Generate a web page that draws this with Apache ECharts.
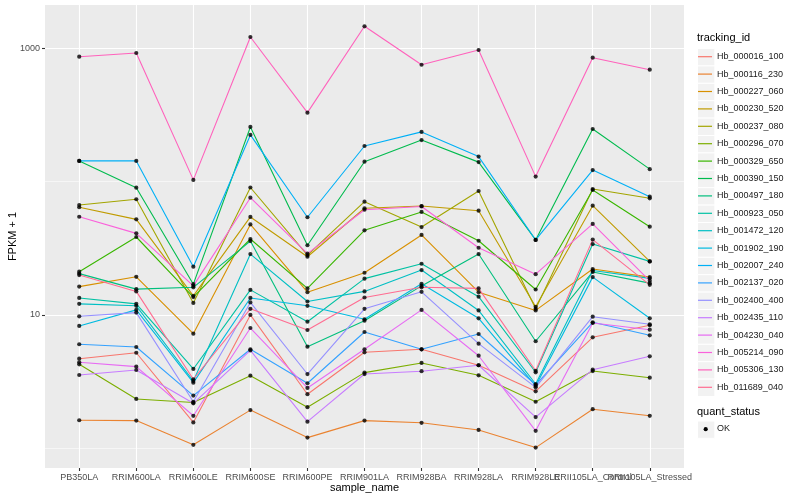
<!DOCTYPE html>
<html><head><meta charset="utf-8">
<script src="https://cdn.jsdelivr.net/npm/echarts@6/dist/echarts.min.js"></script>
<style>html,body{margin:0;padding:0;background:#fff}#c{width:800px;height:500px}</style>
</head><body><div id="c"></div>
<script>
const categories = ['PB350LA','RRIM600LA','RRIM600LE','RRIM600SE','RRIM600PE','RRIM901LA','RRIM928BA','RRIM928LA','RRIM928LE','RRII105LA_Control','RRII105LA_Stressed'];
const yTickValues = [10, 1000];
const yMinorValues = [1, 100];

const Hb_000016_100 = [4.69, 5.20, 1.56, 10.0, 2.54, 5.24, 5.52, 4.19, 2.67, 6.79, 8.36];
const Hb_000116_230 = [1.62, 1.61, 1.06, 1.93, 1.20, 1.61, 1.55, 1.37, 1.01, 1.96, 1.75];
const Hb_000227_060 = [16.3, 19.3, 7.23, 47.7, 14.8, 20.7, 39.8, 14.8, 10.8, 22.1, 19.2];
const Hb_000230_520 = [64.2, 52.1, 13.9, 54.3, 27.3, 63.1, 65.6, 60.5, 11.5, 66.0, 25.2];
const Hb_000237_080 = [66.7, 73.7, 12.3, 90.3, 28.1, 70.7, 45.6, 85.0, 11.1, 88.0, 74.9];
const Hb_000296_070 = [4.26, 2.34, 2.20, 3.50, 2.03, 3.69, 4.36, 3.52, 2.23, 3.79, 3.38];
const Hb_000329_650 = [21.1, 38.4, 13.6, 37.1, 15.8, 43.1, 59.2, 36.0, 15.5, 86.5, 45.9];
const Hb_000390_150 = [143, 90.0, 17.0, 257, 33.3, 141, 205, 140, 36.5, 248, 124];
const Hb_000497_180 = [20.4, 15.6, 16.1, 35.8, 5.77, 9.05, 16.5, 28.6, 6.34, 21.0, 17.3];
const Hb_000923_050 = [13.4, 12.1, 3.93, 15.4, 8.89, 18.7, 24.2, 13.7, 3.71, 34.0, 25.2];
const Hb_001472_120 = [12.1, 11.7, 3.19, 28.6, 12.6, 15.0, 21.7, 10.8, 3.03, 21.5, 18.8];
const Hb_001902_190 = [8.26, 10.9, 3.10, 13.4, 11.7, 9.27, 17.1, 9.43, 2.93, 19.2, 9.43];
const Hb_002007_240 = [143, 143, 23.0, 224, 54.0, 185, 236, 154, 36.5, 122, 77.0];
const Hb_002137_020 = [6.02, 5.74, 2.48, 5.52, 3.07, 7.44, 5.52, 7.19, 2.99, 8.80, 7.03];
const Hb_002400_400 = [9.76, 10.4, 2.23, 12.4, 3.60, 11.1, 14.9, 6.08, 2.86, 9.69, 8.50];
const Hb_002435_110 = [3.54, 3.86, 2.17, 5.41, 1.58, 3.60, 3.78, 4.19, 1.71, 3.88, 4.89];
const Hb_004230_040 = [4.41, 4.09, 1.75, 7.97, 2.83, 5.52, 10.9, 4.94, 1.35, 8.69, 7.74];
const Hb_005214_090 = [54.5, 40.9, 16.5, 75.7, 28.8, 61.5, 65.1, 31.9, 20.2, 48.1, 18.0];
const Hb_005306_130 = [865, 922, 103, 1216, 329, 1462, 753, 971, 109, 850, 691];
const Hb_011689_040 = [19.9, 15.0, 3.29, 11.1, 7.70, 13.5, 16.1, 15.8, 3.81, 36.7, 16.8];

const trackingIds = ['Hb_000016_100','Hb_000116_230','Hb_000227_060','Hb_000230_520','Hb_000237_080','Hb_000296_070','Hb_000329_650','Hb_000390_150','Hb_000497_180','Hb_000923_050','Hb_001472_120','Hb_001902_190','Hb_002007_240','Hb_002137_020','Hb_002400_400','Hb_002435_110','Hb_004230_040','Hb_005214_090','Hb_005306_130','Hb_011689_040'];
const seriesValues = [Hb_000016_100,Hb_000116_230,Hb_000227_060,Hb_000230_520,Hb_000237_080,Hb_000296_070,Hb_000329_650,Hb_000390_150,Hb_000497_180,Hb_000923_050,Hb_001472_120,Hb_001902_190,Hb_002007_240,Hb_002137_020,Hb_002400_400,Hb_002435_110,Hb_004230_040,Hb_005214_090,Hb_005306_130,Hb_011689_040];
const colors = ['#F8766D','#EA8331','#D89000','#C09B00','#A3A500','#7CAE00','#39B600','#00BB4E','#00BF7D','#00C1A3','#00BFC4','#00BAE0','#00B0F6','#35A2FF','#9590FF','#C77CFF','#E76BF3','#FA62DB','#FF62BC','#FF6C91'];

const FONT = "'Liberation Sans', Arial, sans-serif";
const chart = echarts.init(document.getElementById('c'));

const idx = categories.map((c, i) => i);
const xLabelValues = [-0.6].concat(idx, [10.6]);
const series = [];
trackingIds.forEach((id, k) => {
  series.push({
    type: 'line', name: id, z: 2, showSymbol: false, silent: true,
    data: seriesValues[k].map((v, i) => [i, v]),
    lineStyle: { color: colors[k], width: 1.1 },
    itemStyle: { color: colors[k] }
  });
});
const allPts = [];
seriesValues.forEach(arr => arr.forEach((v, i) => allPts.push([i, v])));
series.push({
  type: 'scatter', name: 'OK', data: allPts, z: 3, symbol: 'circle', symbolSize: 4.2,
  itemStyle: { color: '#000' }, silent: true,
  markLine: { silent: true, symbol: 'none', label: { show: false }, z: 1,
    lineStyle: { color: '#ffffff', width: 0.55, type: 'solid' },
    data: yMinorValues.map(v => ({ yAxis: v })) }
});

const graphics = [];
const legTop = 48, legStep = 17.4;
trackingIds.forEach((id, k) => {
  graphics.push({ type: 'rect', left: 697, top: legTop + k * legStep, shape: { width: 17.3, height: legStep }, style: { fill: '#F2F2F2', stroke: '#fff', lineWidth: 1 }, z: -1 });
});
graphics.push({ type: 'text', left: 697, top: 32, style: { text: 'tracking_id', font: '11px ' + FONT, fill: '#000' } });
graphics.push({ type: 'text', left: 697, top: 406, style: { text: 'quant_status', font: '11px ' + FONT, fill: '#000' } });
graphics.push({ type: 'rect', left: 697, top: 420.5, shape: { width: 17.3, height: 17.3 }, style: { fill: '#F2F2F2', stroke: '#fff', lineWidth: 1 } });
graphics.push({ type: 'circle', shape: { cx: 705.7, cy: 429.2, r: 2.1 }, style: { fill: '#000' } });
graphics.push({ type: 'text', left: 717, top: 424, style: { text: 'OK', font: '9px ' + FONT, fill: '#1a1a1a' } });
graphics.push({ type: 'text', x: 364.5, y: 487.5, style: { text: 'sample_name', font: '11px ' + FONT, fill: '#000', align: 'center', verticalAlign: 'middle' } });
graphics.push({ type: 'text', x: 13, y: 236.5, rotation: Math.PI / 2, style: { text: 'FPKM + 1', font: '11px ' + FONT, fill: '#000', align: 'center', verticalAlign: 'middle' } });

chart.setOption({
  animation: false,
  textStyle: { fontFamily: FONT },
  grid: { left: 45, right: 116, top: 5, bottom: 32, show: true, backgroundColor: '#EBEBEB', borderWidth: 0, containLabel: false, outerBoundsMode: 'none' },
  xAxis: {
    type: 'value', min: -0.6, max: 10.6,
    axisLine: { show: false, onZero: false },
    axisTick: { show: true, length: 3, customValues: idx, lineStyle: { color: '#333', width: 1.1 } },
    axisLabel: { customValues: xLabelValues, formatter: v => (Number.isInteger(v) ? (categories[v] || '') : ''), fontSize: 9, color: '#4D4D4D', margin: 5, fontFamily: FONT, hideOverlap: false },
    splitLine: { show: true, lineStyle: { color: '#fff', width: 1.1 } }
  },
  yAxis: {
    type: 'log', logBase: 10, min: 0.71, max: 2113,
    axisLine: { show: false, onZero: false },
    axisTick: { show: true, length: 3, customValues: yTickValues, lineStyle: { color: '#333', width: 1.1 } },
    axisLabel: { customValues: yTickValues, fontSize: 9, color: '#4D4D4D', margin: 5, fontFamily: FONT, formatter: v => String(Math.round(v)) },
    splitLine: { show: true, lineStyle: { color: '#fff', width: 1.1 } }
  },
  legend: {
    orient: 'vertical', left: 698, top: legTop, padding: 0, itemGap: 0,
    itemWidth: 14, itemHeight: 1.2, icon: 'rect', selectedMode: false,
    textStyle: { fontSize: 9, color: '#1a1a1a', lineHeight: legStep, fontFamily: FONT },
    data: trackingIds.map((id, k) => ({ name: id, itemStyle: { color: colors[k] } }))
  },
  graphic: graphics,
  series: series
});
</script></body></html>
